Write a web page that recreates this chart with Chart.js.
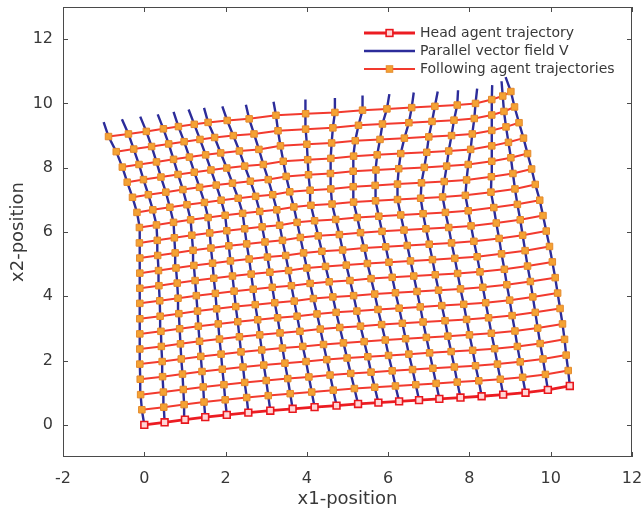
<!DOCTYPE html>
<html>
<head>
<meta charset="utf-8">
<script src="https://cdn.jsdelivr.net/npm/chart.js@4"></script>
<style>
  html, body { margin: 0; padding: 0; background: #fff; }
  #wrap { width: 641px; height: 513px; }
</style>
</head>
<body>
<div id="wrap"><canvas id="agents" width="641" height="513"></canvas></div>
<script>
// x1 of each grid node, one array per column (index 0 = head agent, 1..19 = followers)
const colX = [
  [0, -0.06, -0.09, -0.10, -0.11, -0.11, -0.11, -0.11, -0.11, -0.11, -0.11, -0.11, -0.12, -0.12, -0.18, -0.29, -0.42, -0.54, -0.69, -0.88],
  [0.50, 0.48, 0.47, 0.45, 0.44, 0.42, 0.41, 0.39, 0.38, 0.36, 0.35, 0.33, 0.32, 0.30, 0.21, 0.10, -0.02, -0.13, -0.26, -0.39],
  [1.00, 0.98, 0.96, 0.94, 0.91, 0.89, 0.87, 0.85, 0.83, 0.81, 0.78, 0.76, 0.74, 0.72, 0.63, 0.53, 0.41, 0.30, 0.18, 0.05],
  [1.50, 1.47, 1.45, 1.42, 1.39, 1.36, 1.33, 1.31, 1.28, 1.25, 1.22, 1.20, 1.17, 1.14, 1.05, 0.95, 0.83, 0.72, 0.60, 0.47],
  [2.03, 1.99, 1.96, 1.92, 1.89, 1.85, 1.82, 1.78, 1.75, 1.71, 1.68, 1.64, 1.61, 1.57, 1.48, 1.36, 1.23, 1.11, 0.98, 0.84],
  [2.56, 2.52, 2.47, 2.43, 2.38, 2.34, 2.30, 2.25, 2.21, 2.17, 2.12, 2.08, 2.03, 1.99, 1.89, 1.77, 1.64, 1.51, 1.37, 1.23],
  [3.10, 3.05, 3.00, 2.94, 2.89, 2.84, 2.79, 2.73, 2.68, 2.63, 2.58, 2.52, 2.47, 2.42, 2.31, 2.17, 2.03, 1.88, 1.73, 1.57],
  [3.65, 3.59, 3.53, 3.46, 3.40, 3.34, 3.28, 3.21, 3.15, 3.09, 3.03, 2.97, 2.90, 2.84, 2.74, 2.61, 2.47, 2.34, 2.19, 2.04],
  [4.19, 4.12, 4.05, 3.98, 3.90, 3.83, 3.76, 3.69, 3.62, 3.55, 3.48, 3.40, 3.33, 3.26, 3.16, 3.05, 2.93, 2.82, 2.70, 2.58],
  [4.73, 4.65, 4.57, 4.49, 4.41, 4.33, 4.25, 4.16, 4.08, 4.00, 3.92, 3.84, 3.76, 3.68, 3.58, 3.49, 3.42, 3.35, 3.29, 3.24],
  [5.26, 5.17, 5.08, 4.99, 4.90, 4.81, 4.72, 4.64, 4.55, 4.46, 4.37, 4.28, 4.19, 4.10, 4.08, 4.04, 4.02, 4.00, 3.97, 3.97],
  [5.76, 5.67, 5.58, 5.50, 5.41, 5.32, 5.23, 5.15, 5.06, 4.97, 4.88, 4.80, 4.71, 4.62, 4.59, 4.58, 4.59, 4.61, 4.64, 4.69],
  [6.27, 6.18, 6.10, 6.01, 5.93, 5.84, 5.75, 5.67, 5.58, 5.49, 5.41, 5.32, 5.24, 5.15, 5.14, 5.14, 5.15, 5.19, 5.27, 5.37],
  [6.76, 6.68, 6.60, 6.51, 6.43, 6.35, 6.27, 6.18, 6.10, 6.02, 5.94, 5.85, 5.77, 5.69, 5.68, 5.70, 5.73, 5.80, 5.86, 5.97],
  [7.26, 7.18, 7.10, 7.02, 6.94, 6.86, 6.79, 6.71, 6.63, 6.55, 6.47, 6.39, 6.31, 6.23, 6.23, 6.26, 6.31, 6.40, 6.51, 6.58],
  [7.78, 7.70, 7.63, 7.55, 7.47, 7.40, 7.32, 7.24, 7.16, 7.09, 7.01, 6.93, 6.86, 6.80, 6.82, 6.89, 6.95, 7.00, 7.08, 7.15],
  [8.30, 8.23, 8.15, 8.08, 8.00, 7.93, 7.86, 7.78, 7.71, 7.64, 7.56, 7.49, 7.41, 7.34, 7.38, 7.44, 7.49, 7.56, 7.62, 7.70],
  [8.83, 8.76, 8.69, 8.62, 8.54, 8.47, 8.40, 8.33, 8.26, 8.19, 8.11, 8.04, 7.97, 7.90, 7.93, 7.97, 8.03, 8.07, 8.12, 8.15],
  [9.38, 9.31, 9.25, 9.18, 9.12, 9.05, 8.99, 8.92, 8.86, 8.79, 8.73, 8.66, 8.60, 8.53, 8.54, 8.55, 8.55, 8.55, 8.55, 8.55],
  [9.93, 9.87, 9.81, 9.74, 9.68, 9.62, 9.56, 9.50, 9.43, 9.37, 9.31, 9.25, 9.18, 9.12, 9.07, 9.02, 8.96, 8.90, 8.85, 8.82],
  [10.47, 10.43, 10.38, 10.34, 10.29, 10.23, 10.17, 10.11, 10.04, 9.97, 9.89, 9.81, 9.73, 9.62, 9.53, 9.43, 9.33, 9.22, 9.11, 9.02]
];

// x2 of each grid node, one array per agent (row 0 = head agent)
const rowY = [
  [0, 0.08, 0.16, 0.24, 0.31, 0.38, 0.44, 0.50, 0.55, 0.60, 0.65, 0.69, 0.73, 0.77, 0.81, 0.85, 0.89, 0.94, 1.00, 1.09, 1.21],
  [0.47, 0.55, 0.63, 0.71, 0.78, 0.85, 0.91, 0.97, 1.02, 1.08, 1.13, 1.17, 1.21, 1.25, 1.29, 1.33, 1.37, 1.42, 1.48, 1.57, 1.69],
  [0.94, 1.02, 1.10, 1.18, 1.25, 1.32, 1.38, 1.44, 1.49, 1.55, 1.60, 1.64, 1.68, 1.72, 1.76, 1.80, 1.84, 1.89, 1.96, 2.05, 2.17],
  [1.42, 1.50, 1.58, 1.66, 1.73, 1.80, 1.86, 1.92, 1.97, 2.03, 2.08, 2.12, 2.16, 2.20, 2.24, 2.28, 2.32, 2.37, 2.44, 2.53, 2.66],
  [1.89, 1.97, 2.05, 2.13, 2.20, 2.27, 2.33, 2.39, 2.44, 2.50, 2.55, 2.59, 2.64, 2.68, 2.72, 2.76, 2.80, 2.85, 2.92, 3.01, 3.14],
  [2.36, 2.44, 2.52, 2.60, 2.67, 2.74, 2.80, 2.86, 2.91, 2.98, 3.03, 3.07, 3.12, 3.16, 3.20, 3.24, 3.28, 3.33, 3.40, 3.50, 3.62],
  [2.83, 2.91, 2.99, 3.07, 3.14, 3.21, 3.27, 3.33, 3.38, 3.45, 3.50, 3.54, 3.59, 3.63, 3.67, 3.71, 3.75, 3.80, 3.88, 3.98, 4.10],
  [3.30, 3.38, 3.46, 3.54, 3.61, 3.68, 3.74, 3.80, 3.85, 3.93, 3.98, 4.02, 4.07, 4.11, 4.15, 4.19, 4.23, 4.28, 4.36, 4.46, 4.58],
  [3.78, 3.86, 3.94, 4.02, 4.09, 4.16, 4.22, 4.28, 4.33, 4.40, 4.45, 4.49, 4.55, 4.59, 4.63, 4.67, 4.71, 4.76, 4.84, 4.94, 5.07],
  [4.25, 4.33, 4.41, 4.49, 4.56, 4.63, 4.69, 4.75, 4.80, 4.88, 4.93, 4.97, 5.02, 5.06, 5.10, 5.14, 5.18, 5.23, 5.32, 5.42, 5.55],
  [4.72, 4.80, 4.88, 4.96, 5.03, 5.10, 5.16, 5.22, 5.27, 5.35, 5.40, 5.44, 5.50, 5.54, 5.58, 5.62, 5.66, 5.71, 5.80, 5.90, 6.03],
  [5.19, 5.27, 5.35, 5.43, 5.50, 5.57, 5.63, 5.69, 5.74, 5.83, 5.88, 5.92, 5.98, 6.02, 6.06, 6.10, 6.14, 6.19, 6.28, 6.38, 6.51],
  [5.66, 5.74, 5.82, 5.90, 5.97, 6.04, 6.10, 6.16, 6.21, 6.30, 6.35, 6.39, 6.45, 6.49, 6.53, 6.57, 6.61, 6.66, 6.76, 6.86, 6.99],
  [6.14, 6.22, 6.30, 6.38, 6.45, 6.52, 6.58, 6.64, 6.69, 6.78, 6.83, 6.87, 6.93, 6.97, 7.01, 7.05, 7.09, 7.14, 7.24, 7.34, 7.48],
  [6.61, 6.69, 6.77, 6.85, 6.92, 6.99, 7.05, 7.11, 7.16, 7.25, 7.30, 7.34, 7.41, 7.45, 7.49, 7.53, 7.57, 7.62, 7.72, 7.82, 7.96],
  [7.08, 7.16, 7.24, 7.32, 7.39, 7.46, 7.52, 7.58, 7.63, 7.73, 7.78, 7.82, 7.89, 7.93, 7.97, 8.01, 8.05, 8.10, 8.20, 8.31, 8.44],
  [7.55, 7.63, 7.71, 7.79, 7.86, 7.93, 7.99, 8.05, 8.10, 8.20, 8.25, 8.29, 8.36, 8.40, 8.44, 8.48, 8.52, 8.57, 8.68, 8.79, 8.92],
  [8.02, 8.10, 8.18, 8.26, 8.33, 8.40, 8.46, 8.52, 8.57, 8.68, 8.73, 8.77, 8.84, 8.88, 8.92, 8.96, 9.00, 9.05, 9.16, 9.27, 9.40],
  [8.50, 8.58, 8.66, 8.74, 8.81, 8.88, 8.94, 9.00, 9.05, 9.15, 9.20, 9.24, 9.32, 9.36, 9.40, 9.44, 9.48, 9.53, 9.64, 9.75, 9.89],
  [8.97, 9.05, 9.13, 9.21, 9.28, 9.35, 9.41, 9.47, 9.52, 9.63, 9.68, 9.72, 9.79, 9.83, 9.87, 9.91, 9.95, 10.00, 10.12, 10.23, 10.37]
];

// end of each vector field line, a bit past the last follower
const tipX = [-1.00, -0.55, -0.10, 0.33, 0.72, 1.09, 1.47, 1.92, 2.50, 3.18, 3.96, 4.69, 5.37, 6.03, 6.63, 7.22, 7.72, 8.19, 8.56, 8.79, 8.89];
const tipY = [9.42, 9.51, 9.59, 9.66, 9.74, 9.81, 9.86, 9.91, 9.96, 10.05, 10.12, 10.17, 10.25, 10.29, 10.34, 10.37, 10.41, 10.46, 10.57, 10.69, 10.82];

const xTicks = [-2, 0, 2, 4, 6, 8, 10, 12];
const yTicks = [0, 2, 4, 6, 8, 10, 12];
const legendText = ['Head agent trajectory', 'Parallel vector field V', 'Following agent trajectories'];

const FONT = 'DejaVu Sans';
const INK = '#383838';

const headStyle = {
  borderColor: '#ec1c22', borderWidth: 2.8,
  pointStyle: 'rect', pointRadius: 4.8,
  pointBackgroundColor: '#ffd6d6', pointBorderColor: '#e8171d', pointBorderWidth: 1.6
};
const followStyle = {
  borderColor: '#f23a2e', borderWidth: 2,
  pointStyle: 'rect', pointRadius: 4.6,
  pointBackgroundColor: '#f4a233', pointBorderColor: '#e58a2c', pointBorderWidth: 1
};
const fieldStyle = { borderColor: '#2c2c9a', borderWidth: 2.4, pointRadius: 0 };

function node(r, c) {
  return { x: colX[c][r], y: rowY[r][c] };
}

const datasets = [];

// head agent on top
datasets.push(Object.assign({
  label: legendText[0], showLine: true, order: 0,
  data: colX.map((col, c) => node(0, c))
}, headStyle));

// following agents
for (let r = 1; r < rowY.length; r++) {
  datasets.push(Object.assign({
    label: legendText[2], showLine: true, order: 1,
    data: colX.map((col, c) => node(r, c))
  }, followStyle));
}

// vector field lines, drawn underneath
colX.forEach((col, c) => {
  const pts = col.map((x, r) => node(r, c));
  pts.push({ x: tipX[c], y: tipY[c] });
  datasets.push(Object.assign({ label: legendText[1], showLine: true, order: 2, data: pts }, fieldStyle));
});

// box, inward ticks and the legend, matlab style
const matlabFrame = {
  id: 'matlabFrame',
  afterDraw(chart) {
    const { ctx, chartArea: a, scales } = chart;
    ctx.save();
    ctx.strokeStyle = '#4a4a4a';
    ctx.lineWidth = 1;
    ctx.strokeRect(a.left + 0.5, a.top + 0.5, a.right - a.left - 1, a.bottom - a.top - 1);
    ctx.beginPath();
    xTicks.forEach(v => {
      const px = Math.round(scales.x.getPixelForValue(v)) + 0.5;
      ctx.moveTo(px, a.bottom); ctx.lineTo(px, a.bottom - 5);
      ctx.moveTo(px, a.top); ctx.lineTo(px, a.top + 5);
    });
    yTicks.forEach(v => {
      const py = Math.round(scales.y.getPixelForValue(v)) + 0.5;
      ctx.moveTo(a.left, py); ctx.lineTo(a.left + 5, py);
      ctx.moveTo(a.right, py); ctx.lineTo(a.right - 5, py);
    });
    ctx.stroke();

    // legend
    const x0 = a.right - 268, x1 = a.right - 217, xm = (x0 + x1) / 2;
    const styles = [headStyle, fieldStyle, followStyle];
    ctx.font = '14px "' + FONT + '"';
    ctx.textBaseline = 'middle';
    styles.forEach((s, i) => {
      const y = a.top + 26 + i * 18;
      ctx.strokeStyle = s.borderColor;
      ctx.lineWidth = s.borderWidth;
      ctx.beginPath(); ctx.moveTo(x0, y); ctx.lineTo(x1, y); ctx.stroke();
      if (s.pointRadius) {
        const h = s.pointRadius * Math.SQRT1_2;
        ctx.fillStyle = s.pointBackgroundColor;
        ctx.strokeStyle = s.pointBorderColor;
        ctx.lineWidth = s.pointBorderWidth;
        ctx.fillRect(xm - h, y - h, 2 * h, 2 * h);
        ctx.strokeRect(xm - h, y - h, 2 * h, 2 * h);
      }
      ctx.fillStyle = INK;
      ctx.fillText(legendText[i], a.right - 212, y);
    });
    ctx.restore();
  }
};

function noOverhang(s) {
  s.paddingLeft = 0; s.paddingRight = 0; s.paddingTop = 0; s.paddingBottom = 0;
}

new Chart(document.getElementById('agents'), {
  type: 'scatter',
  data: { datasets },
  options: {
    responsive: false,
    animation: false,
    events: [],
    layout: { padding: { top: 7, right: 9, left: 0, bottom: 0 } },
    plugins: { legend: { display: false }, tooltip: { enabled: false } },
    scales: {
      x: {
        type: 'linear', min: -2, max: 12,
        afterBuildTicks: s => { s.ticks = xTicks.map(v => ({ value: v })); },
        afterFit: s => { s.height = 56; noOverhang(s); },
        grid: { display: false, drawTicks: false },
        border: { display: false },
        ticks: { font: { family: FONT, size: 16 }, color: INK, padding: 12, maxRotation: 0, autoSkip: false },
        title: { display: true, text: 'x1-position', font: { family: FONT, size: 18 }, color: INK, padding: { top: 0, bottom: 3 } }
      },
      y: {
        type: 'linear', min: -1, max: 13,
        afterBuildTicks: s => { s.ticks = yTicks.map(v => ({ value: v })); },
        afterFit: s => { s.width = 63; noOverhang(s); },
        grid: { display: false, drawTicks: false },
        border: { display: false },
        ticks: { font: { family: FONT, size: 16 }, color: INK, padding: 10, autoSkip: false },
        title: { display: true, text: 'x2-position', font: { family: FONT, size: 18 }, color: INK, padding: { top: 8, bottom: 0 } }
      }
    }
  },
  plugins: [matlabFrame]
});
</script>
</body>
</html>
